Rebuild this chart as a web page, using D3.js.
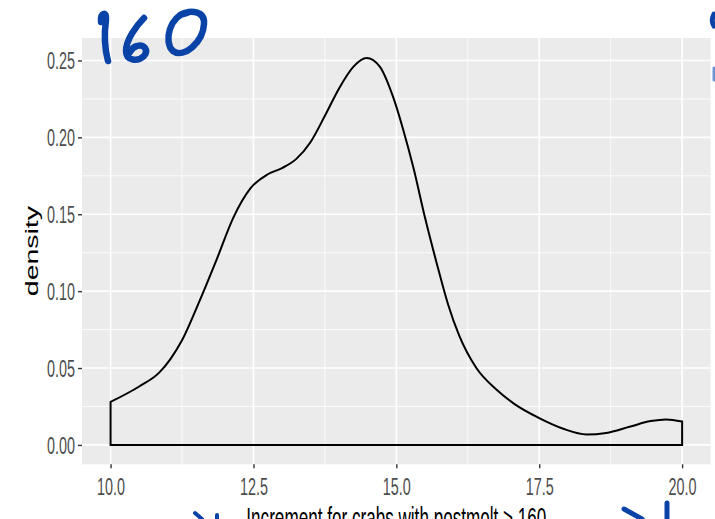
<!DOCTYPE html>
<html>
<head>
<meta charset="utf-8">
<script src="https://cdn.jsdelivr.net/npm/d3@7"></script>
<style>
  html, body { margin: 0; padding: 0; background: #fff; }
  svg { display: block; }
  text { font-family: "Liberation Sans", Arial, sans-serif; }
</style>
</head>
<body>
<svg id="chart" width="715" height="519"></svg>
<script>
// Kernel density estimate of the increment, sampled along x
const increment = [10.0, 10.5, 10.85, 11.05, 11.25, 11.55, 11.85, 12.15, 12.45, 12.75, 13.0,
  13.25, 13.5, 13.75, 14.0, 14.25, 14.48, 14.71, 14.94, 15.12, 15.3, 15.5, 15.7,
  15.9, 16.1, 16.4, 16.75, 17.05, 17.5, 17.92, 18.33, 18.67, 19.08, 19.45, 19.72, 20.0];
const density = [0.028, 0.038, 0.047, 0.056, 0.068, 0.093, 0.120, 0.148, 0.167, 0.176, 0.180,
  0.186, 0.197, 0.214, 0.232, 0.246, 0.2516, 0.246, 0.2266, 0.205, 0.180, 0.148, 0.119,
  0.092, 0.071, 0.050, 0.036, 0.027, 0.0174, 0.0105, 0.0068, 0.0078, 0.0118, 0.0155, 0.0166, 0.0152];

const xTicks = [10, 12.5, 15, 17.5, 20];
const xMinor = [11.25, 13.75, 16.25, 18.75];
const yTicks = [0, 0.05, 0.10, 0.15, 0.20, 0.25];
const yMinor = [0.025, 0.075, 0.125, 0.175, 0.225];
const xTitle = "Increment for crabs with postmolt > 160";
const yTitle = "density";

const svg = d3.select("#chart");
const panel = { left: 82, right: 710.7, top: 38, bottom: 464.3 };

const x = d3.scaleLinear().domain([9.5, 20.5]).range([panel.left, panel.right]);
const y = d3.scaleLinear().domain([-0.0126, 0.2646]).range([panel.bottom, panel.top]);

// panel background
svg.append("rect")
  .attr("x", panel.left).attr("y", panel.top)
  .attr("width", panel.right - panel.left).attr("height", panel.bottom - panel.top)
  .attr("fill", "#EBEBEB");

const grid = svg.append("g").attr("stroke", "#fff").attr("fill", "none");
// minor grid
grid.selectAll("line.xm").data(xMinor).join("line")
  .attr("x1", d => x(d)).attr("x2", d => x(d))
  .attr("y1", panel.top).attr("y2", panel.bottom).attr("stroke-width", 0.8);
grid.selectAll("line.ym").data(yMinor).join("line")
  .attr("y1", d => y(d)).attr("y2", d => y(d))
  .attr("x1", panel.left).attr("x2", panel.right).attr("stroke-width", 0.8);
// major grid
grid.selectAll("line.xM").data(xTicks).join("line")
  .attr("x1", d => x(d)).attr("x2", d => x(d))
  .attr("y1", panel.top).attr("y2", panel.bottom).attr("stroke-width", 1.6);
grid.selectAll("line.yM").data(yTicks).join("line")
  .attr("y1", d => y(d)).attr("y2", d => y(d))
  .attr("x1", panel.left).attr("x2", panel.right).attr("stroke-width", 1.6);

// density outline (closed polygon down to the baseline)
const pts = increment.map((v, i) => [v, density[i]]);
const curve = d3.line().x(d => x(d[0])).y(d => y(d[1])).curve(d3.curveMonotoneX)(pts);
const outline = `M${x(increment[0])},${y(0)}L` + curve.slice(1) +
  `L${x(increment[increment.length - 1])},${y(0)}Z`;
svg.append("path")
  .attr("d", outline)
  .attr("fill", "none")
  .attr("stroke", "#000")
  .attr("stroke-width", 2)
  .attr("stroke-linejoin", "miter");

// y axis
const yAxis = svg.append("g").attr("transform", `translate(${panel.left},0)`)
  .call(d3.axisLeft(y).tickValues(yTicks).tickSize(4).tickPadding(3).tickFormat(d3.format(".2f")));
yAxis.select(".domain").remove();
yAxis.selectAll(".tick line").attr("stroke", "#333").attr("stroke-width", 1.4);
yAxis.selectAll(".tick text")
  .attr("fill", "#4D4D4D").attr("font-size", 23).attr("dy", "0.36em")
  .attr("textLength", 28).attr("lengthAdjust", "spacingAndGlyphs");

// x axis
const xAxis = svg.append("g").attr("transform", `translate(0,${panel.bottom})`)
  .call(d3.axisBottom(x).tickValues(xTicks).tickSize(4).tickPadding(3).tickFormat(d3.format(".1f")));
xAxis.select(".domain").remove();
xAxis.selectAll(".tick line").attr("stroke", "#333").attr("stroke-width", 1.4);
xAxis.selectAll(".tick text")
  .attr("fill", "#4D4D4D").attr("font-size", 23).attr("y", 0).attr("dy", 31)
  .attr("textLength", 28).attr("lengthAdjust", "spacingAndGlyphs");

// axis titles
svg.append("text")
  .attr("transform", `translate(38,${(panel.top + panel.bottom) / 2}) rotate(-90)`)
  .attr("text-anchor", "middle").attr("font-size", 18).attr("fill", "#000")
  .attr("textLength", 90).attr("lengthAdjust", "spacingAndGlyphs")
  .text(yTitle);
svg.append("text")
  .attr("x", (panel.left + panel.right) / 2).attr("y", 528)
  .attr("text-anchor", "middle").attr("font-size", 29).attr("fill", "#000")
  .attr("textLength", 300).attr("lengthAdjust", "spacingAndGlyphs")
  .text(xTitle);

// handwritten pen marks over the figure
const ink = svg.append("g").attr("fill", "none").attr("stroke", "#0A43A8")
  .attr("stroke-linecap", "round").attr("stroke-linejoin", "round");
const strokes = [
  { d: "M101,22 C100,13 107,10 106,20 C104,34 105,50 108,61", w: 6.5 },
  { d: "M144,18 C136,26 126,40 126,51 C126,61 138,62 144,56 C149,50 144,44 137,46 C133,47 131,50 130,52", w: 6.5 },
  { d: "M187,13 C170,15 163,42 173,51 C184,59 203,42 204,24 C205,11 191,9 180,15", w: 6.5 },
  { d: "M714,14 C712,18 712,23 714,26", w: 5 },
  { d: "M195,513 L202,519", w: 4 },
  { d: "M217,515 L217,519", w: 4 },
  { d: "M624,509 L642,519", w: 5 },
  { d: "M667,503 L667,519", w: 5 }
];
ink.selectAll("path").data(strokes).join("path")
  .attr("d", d => d.d).attr("stroke-width", d => d.w);
ink.append("path").attr("d", "M714,68 L714,80").attr("stroke", "#6D95D8").attr("stroke-width", 3);
</script>
</body>
</html>
